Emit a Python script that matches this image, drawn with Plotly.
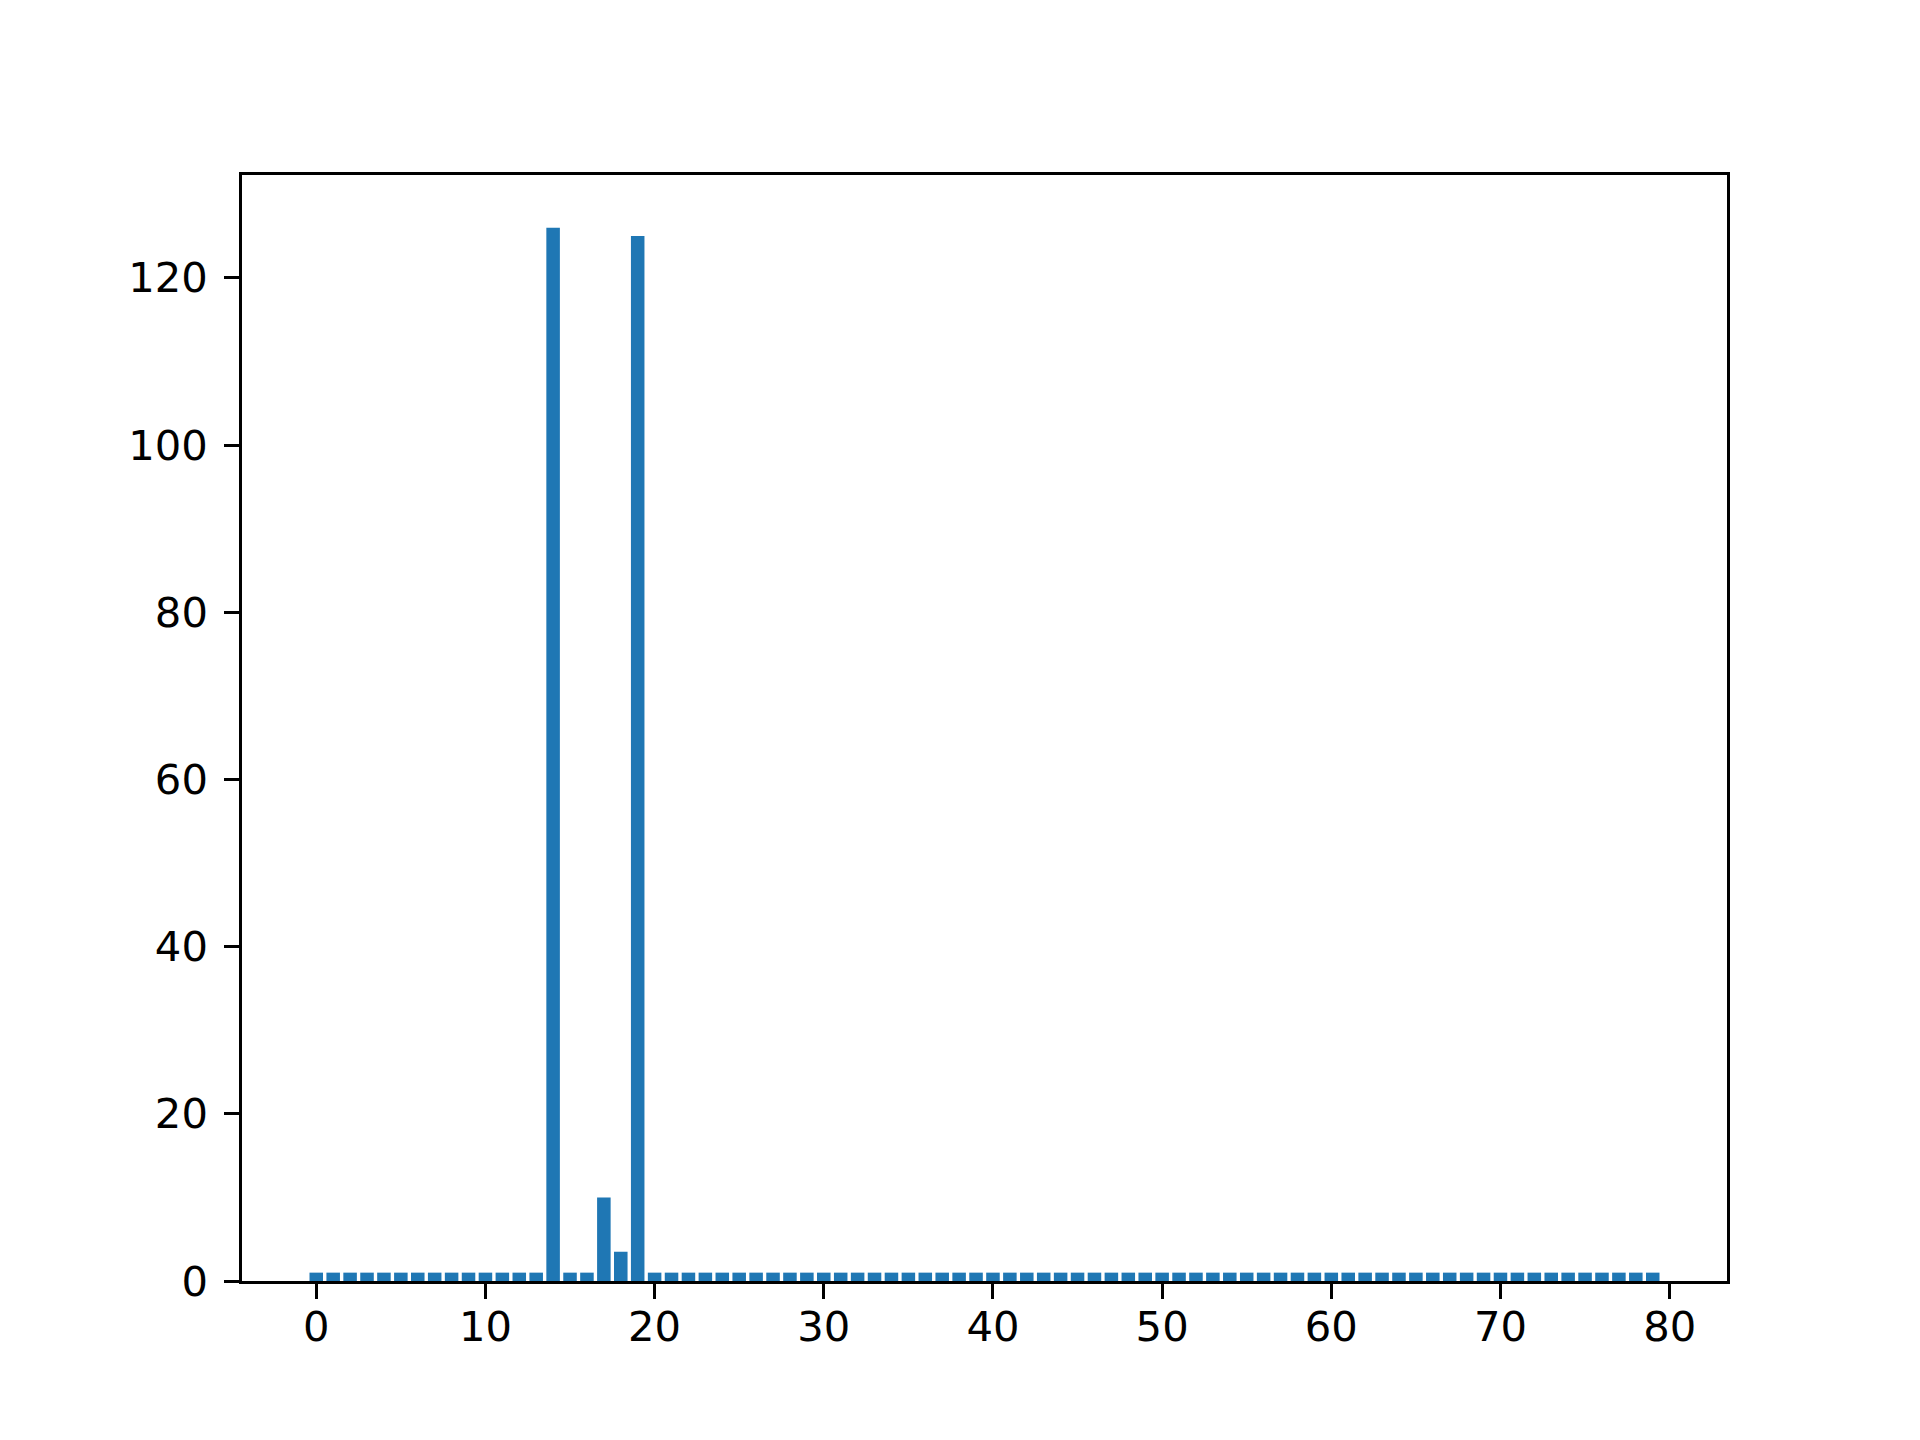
import plotly.graph_objects as go

# bar positions and heights
positions = list(range(80))
counts = [1] * 80
counts[14] = 126
counts[17] = 10
counts[18] = 3.5
counts[19] = 125

x_ticks = [0, 10, 20, 30, 40, 50, 60, 70, 80]
y_ticks = [0, 20, 40, 60, 80, 100, 120]

fig = go.Figure()
fig.add_trace(go.Bar(
    x=positions,
    y=counts,
    width=0.8,
    marker=dict(color='#1f77b4', line=dict(width=0)),
    showlegend=False,
))

axis_style = dict(
    showline=True,
    linecolor='black',
    linewidth=3.3,
    mirror=True,
    showgrid=False,
    zeroline=False,
    ticks='outside',
    ticklen=14.6,
    tickwidth=3.3,
    tickcolor='black',
    tickfont=dict(family='DejaVu Sans', size=41.7, color='black'),
)

# the page body adds an 8px offset, so margins are shifted to compensate
fig.update_layout(
    width=1920,
    height=1440,
    plot_bgcolor='white',
    paper_bgcolor='white',
    margin=dict(l=234, r=201, t=167, b=167),
    bargap=0.2,
)
fig.update_xaxes(range=[-4.39, 83.39], tickvals=x_ticks, ticklabelstandoff=-8, **axis_style)
fig.update_yaxes(range=[0, 132.3], tickvals=y_ticks, ticklabelstandoff=8, **axis_style)

fig.write_html("out.html")
